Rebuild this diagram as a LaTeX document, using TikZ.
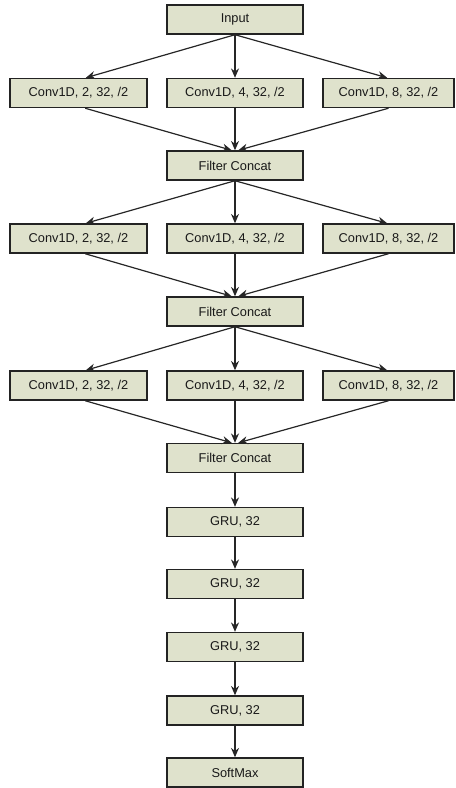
\documentclass[tikz,border=0pt]{standalone}
\usepackage{fontspec}
\setmainfont{Liberation Sans}
\usetikzlibrary{arrows.meta}
\definecolor{boxfill}{RGB}{223,226,204}
\definecolor{boxline}{RGB}{35,35,35}
\tikzset{
  box/.style={draw=boxline, line width=1.1pt, fill=boxfill, minimum height=21.75pt,
    minimum width=102pt, inner sep=0pt, font=\fontsize{9.6pt}{11pt}\selectfont, text=black!90},
  wbox/.style={box, minimum width=102.75pt},
  rbox/.style={box, minimum width=98.25pt},
  arr/.style={draw=black!85, line width=0.9pt, -{Stealth[length=7pt,width=6pt]}}
}
\begin{document}
\begin{tikzpicture}[x=0.75pt,y=-0.75pt]
\useasboundingbox (0,0) rectangle (455,788);
\node[box] (in) at (235,19.5) {Input};
% row 1
\node[wbox] (a1) at (78.5,93) {Conv1D, 2, 32, /2};
\node[box]  (b1) at (235,93) {Conv1D, 4, 32, /2};
\node[rbox] (c1) at (388.5,93) {Conv1D, 8, 32, /2};
\node[box] (f1) at (235,165.5) {Filter Concat};
% row 2
\node[wbox] (a2) at (78.5,238.5) {Conv1D, 2, 32, /2};
\node[box]  (b2) at (235,238.5) {Conv1D, 4, 32, /2};
\node[rbox] (c2) at (388.5,238.5) {Conv1D, 8, 32, /2};
\node[box] (f2) at (235,311.5) {Filter Concat};
% row 3
\node[wbox] (a3) at (78.5,385.5) {Conv1D, 2, 32, /2};
\node[box]  (b3) at (235,385.5) {Conv1D, 4, 32, /2};
\node[rbox] (c3) at (388.5,385.5) {Conv1D, 8, 32, /2};
\node[box] (f3) at (235,458) {Filter Concat};
% GRU stack
\node[box] (g1) at (235,522) {GRU, 32};
\node[box] (g2) at (235,584) {GRU, 32};
\node[box] (g3) at (235,647) {GRU, 32};
\node[box] (g4) at (235,710.5) {GRU, 32};
\node[box] (sm) at (235,772.5) {SoftMax};
% fan-out / fan-in
\foreach \s/\a/\b/\c/\f in {in/a1/b1/c1/f1, f1/a2/b2/c2/f2, f2/a3/b3/c3/f3}{
  \draw[arr] (\s.south) -- ([xshift=5.5pt]\a.north);
  \draw[arr] (\s.south) -- (\b.north);
  \draw[arr] (\s.south) -- ([xshift=-1pt]\c.north);
  \draw[arr] ([xshift=5pt]\a.south) -- ([xshift=-2.5pt]\f.north);
  \draw[arr] (\b.south) -- (\f.north);
  \draw[arr] (\c.south) -- ([xshift=2.5pt]\f.north);
}
\draw[arr] (f3) -- (g1);
\draw[arr] (g1) -- (g2);
\draw[arr] (g2) -- (g3);
\draw[arr] (g3) -- (g4);
\draw[arr] (g4) -- (sm);
\end{tikzpicture}
\end{document}
